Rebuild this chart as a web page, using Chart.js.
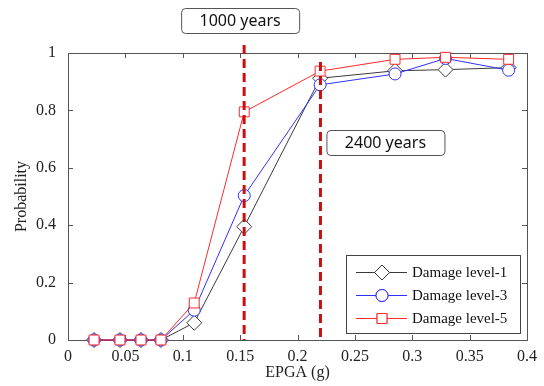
<!DOCTYPE html>
<html>
<head>
<meta charset="utf-8">
<script src="https://cdn.jsdelivr.net/npm/chart.js@4/dist/chart.umd.min.js"></script>
<style>
  html, body { margin: 0; padding: 0; background: #fff; }
  #wrap { width: 544px; height: 386px; }
</style>
</head>
<body>
<div id="wrap"><canvas id="myChart" width="544" height="386"></canvas></div>
<script>
// values
var pga = [0.0227, 0.0453, 0.0636, 0.081, 0.110, 0.1536, 0.2197, 0.285, 0.329, 0.384];
var level1 = [0, 0, 0, 0, 0.06, 0.395, 0.912, 0.938, 0.942, 0.949];
var level3 = [0, 0, 0, 0, 0.104, 0.503, 0.889, 0.927, 0.981, 0.94];
var level5 = [0, 0, 0, 0, 0.129, 0.795, 0.937, 0.978, 0.985, 0.978];
var seriesNames = ['Damage level-1', 'Damage level-3', 'Damage level-5'];
var xTicks = [0, 0.05, 0.1, 0.15, 0.2, 0.25, 0.3, 0.35, 0.4];
var xTickLabels = ['0', '0.05', '0.1', '0.15', '0.2', '0.25', '0.3', '0.35', '0.4'];
var yTicks = [0, 0.2, 0.4, 0.6, 0.8, 1];
var yTickLabels = ['0', '0.2', '0.4', '0.6', '0.8', '1'];
var returnPeriods = [0.1535, 0.22];
var returnLabels = ['1000 years', '2400 years'];

var serif = '"Liberation Serif", "DejaVu Serif", serif';
var sans = '"Noto Sans", "Open Sans", sans-serif';

function pts(ys) {
	return pga.map(function (x, i) { return { x: x, y: ys[i] }; });
}

// frame, inward ticks, dashed lines, boxes and legend
var extras = {
	id: 'extras',
	beforeDatasetsDraw: function (chart) {
		var c = chart.ctx, a = chart.chartArea;
		var xs = chart.scales.x, ys = chart.scales.y;
		c.save();
		c.strokeStyle = '#555';
		c.lineWidth = 1;
		c.strokeRect(a.left + 0.5, a.top + 0.5, a.right - a.left, a.bottom - a.top);
		c.beginPath();
		xTicks.forEach(function (v) {
			var px = Math.round(xs.getPixelForValue(v)) + 0.5;
			c.moveTo(px, a.bottom); c.lineTo(px, a.bottom - 5);
			c.moveTo(px, a.top); c.lineTo(px, a.top + 5);
		});
		yTicks.forEach(function (v) {
			var py = Math.round(ys.getPixelForValue(v)) + 0.5;
			c.moveTo(a.left, py); c.lineTo(a.left + 5, py);
			c.moveTo(a.right, py); c.lineTo(a.right - 5, py);
		});
		c.stroke();
		c.restore();
	},
	afterDatasetsDraw: function (chart) {
		var c = chart.ctx, a = chart.chartArea;
		var xs = chart.scales.x;
		c.save();
		// return period lines
		var tops = [a.top - 8, a.top + 9];
		c.strokeStyle = 'rgb(200, 16, 16)';
		c.lineWidth = 3;
		c.setLineDash([9, 5]);
		returnPeriods.forEach(function (v, i) {
			var px = xs.getPixelForValue(v);
			c.beginPath();
			c.moveTo(px, tops[i]);
			c.lineTo(px, a.bottom);
			c.stroke();
		});
		c.setLineDash([]);

		// label boxes
		var boxes = [
			{ x: xs.getPixelForValue(returnPeriods[0]) - 63, y: 8 },
			{ x: xs.getPixelForValue(returnPeriods[1]) + 6, y: 130 }
		];
		c.font = '16px ' + sans;
		c.textAlign = 'center';
		c.textBaseline = 'middle';
		boxes.forEach(function (b, i) {
			c.beginPath();
			c.roundRect(b.x + 0.5, b.y + 0.5, 118, 25, 4);
			c.fillStyle = '#fff';
			c.fill();
			c.strokeStyle = '#555';
			c.lineWidth = 1;
			c.stroke();
			c.fillStyle = '#111';
			c.fillText(returnLabels[i], b.x + 59, b.y + 13);
		});

		// legend
		var lx = 346, ly = 255;
		c.fillStyle = '#fff';
		c.fillRect(lx, ly, 174, 78);
		c.strokeStyle = '#444';
		c.strokeRect(lx + 0.5, ly + 0.5, 174, 78);
		c.font = '15px ' + serif;
		c.textAlign = 'left';
		chart.data.datasets.forEach(function (ds, i) {
			var yy = ly + 17 + i * 23;
			c.strokeStyle = ds.borderColor;
			c.lineWidth = 1;
			c.beginPath();
			c.moveTo(lx + 10, yy + 0.5);
			c.lineTo(lx + 61, yy + 0.5);
			c.stroke();
			Chart.helpers.drawPoint(c, {
				pointStyle: ds.pointStyle,
				radius: ds.pointRadius,
				borderWidth: 1
			}, lx + 36, yy + 0.5);
			c.fillStyle = '#fff';
			c.fill();
			c.stroke();
			c.fillStyle = '#111';
			c.fillText(seriesNames[i], lx + 66, yy + 1);
		});
		c.restore();
	}
};

document.addEventListener("DOMContentLoaded", function (event) {
	var ctx = document.getElementById('myChart');
	var myChart = new Chart(ctx, {
		type: 'line',
		data: {
			datasets: [{
				label: seriesNames[0],
				data: pts(level1),
				borderColor: '#3a3a3a',
				backgroundColor: '#fff',
				pointStyle: 'rectRot',
				pointRadius: 7.5,
				borderWidth: 1,
				order: 3
			},
			{
				label: seriesNames[1],
				data: pts(level3),
				borderColor: '#3030ff',
				backgroundColor: '#fff',
				pointStyle: 'circle',
				pointRadius: 6,
				borderWidth: 1,
				order: 2
			},
			{
				label: seriesNames[2],
				data: pts(level5),
				borderColor: '#ff2a2a',
				backgroundColor: '#fff',
				pointStyle: 'rect',
				pointRadius: 7,
				borderWidth: 1,
				order: 1
			}
			]
		},
		options: {
			responsive: false,
			animation: false,
			clip: false,
			layout: {
				padding: { top: 53, right: 17, left: 0, bottom: 0 }
			},
			scales: {
				x: {
					type: 'linear',
					min: 0,
					max: 0.4,
					afterBuildTicks: function (scale) {
						scale.ticks = xTicks.map(function (v) { return { value: v }; });
					},
					afterFit: function (scale) { scale.height = 46; },
					ticks: {
						callback: function (v, i) { return xTickLabels[i]; },
						font: { family: serif, size: 16 },
						color: '#222',
						padding: -1,
						maxRotation: 0
					},
					grid: { display: false },
					border: { display: false },
					title: {
						display: true,
						text: 'EPGA (g)',
						font: { family: serif, size: 16 },
						color: '#222',
						padding: { top: 0 }
					}
				},
				y: {
					min: 0,
					max: 1,
					afterBuildTicks: function (scale) {
						scale.ticks = yTicks.map(function (v) { return { value: v }; });
					},
					afterFit: function (scale) { scale.width = 68; },
					ticks: {
						callback: function (v, i) { return yTickLabels[i]; },
						font: { family: serif, size: 16 },
						color: '#222',
						padding: 4
					},
					grid: { display: false },
					border: { display: false },
					title: {
						display: true,
						text: 'Probability',
						font: { family: serif, size: 16 },
						color: '#222',
						padding: { top: 12, bottom: 0 }
					}
				}
			},
			plugins: {
				legend: { display: false },
				tooltip: { enabled: false }
			}
		},
		plugins: [extras]
	});
});
</script>
</body>
</html>
